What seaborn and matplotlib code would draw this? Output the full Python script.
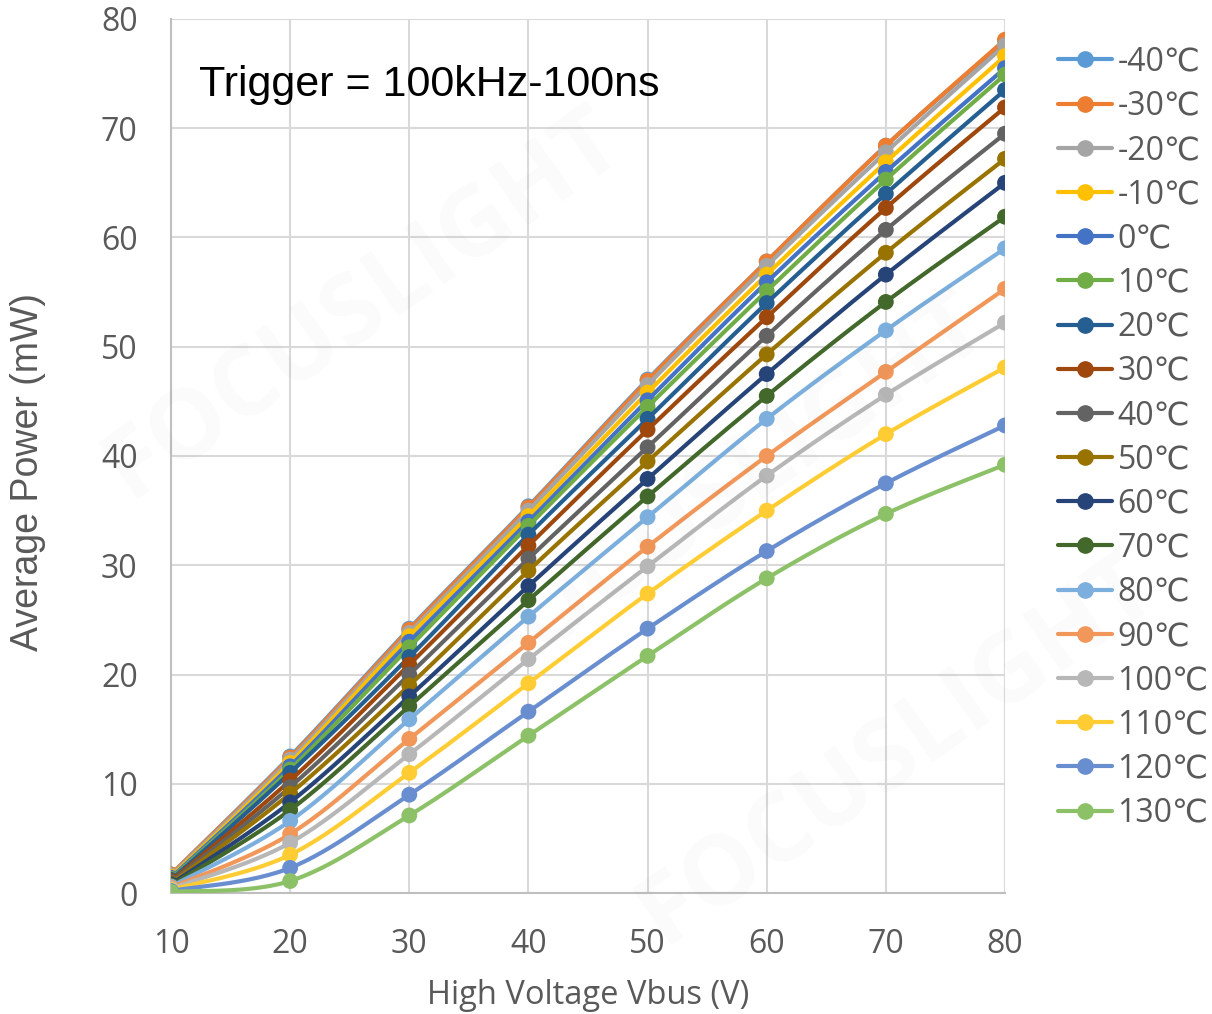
import numpy as np
import pandas as pd
import matplotlib
matplotlib.use('Agg')
import matplotlib.pyplot as plt
from matplotlib.lines import Line2D
import seaborn as sns

# ── Data ───────────────────────────────────────────────────────────────────
vbus = [10, 20, 30, 40, 50, 60, 70, 80]
temps = ['-40℃', '-30℃', '-20℃', '-10℃', '0℃', '10℃', '20℃', '30℃', '40℃',
         '50℃', '60℃', '70℃', '80℃', '90℃', '100℃', '110℃', '120℃', '130℃']

p_m40 = [1.7, 12.5, 24.2, 35.4, 47.0, 57.8, 68.4, 78.0]
p_m30 = [1.7, 12.4, 24.1, 35.3, 46.9, 57.8, 68.4, 78.1]
p_m20 = [1.6, 12.2, 23.8, 35.0, 46.5, 57.4, 67.8, 77.6]
p_m10 = [1.5, 11.9, 23.5, 34.5, 45.8, 56.6, 66.9, 76.6]
p_0 = [1.4, 11.6, 23.0, 34.0, 45.1, 55.9, 66.0, 75.5]
p_10 = [1.3, 11.3, 22.5, 33.6, 44.5, 55.1, 65.3, 74.9]
p_20 = [1.2, 11.0, 21.6, 32.8, 43.4, 54.0, 64.0, 73.5]
p_30 = [1.1, 10.3, 20.9, 31.8, 42.4, 52.7, 62.7, 71.9]
p_40 = [1.0, 9.7, 20.0, 30.6, 40.8, 51.0, 60.7, 69.5]
p_50 = [0.9, 9.1, 19.0, 29.5, 39.5, 49.3, 58.6, 67.2]
p_60 = [0.8, 8.3, 18.0, 28.1, 37.9, 47.5, 56.6, 65.0]
p_70 = [0.7, 7.6, 17.1, 26.8, 36.3, 45.5, 54.1, 61.9]
p_80 = [0.6, 6.6, 15.9, 25.3, 34.4, 43.4, 51.5, 59.0]
p_90 = [0.5, 5.4, 14.1, 22.9, 31.7, 40.0, 47.7, 55.3]
p_100 = [0.4, 4.6, 12.7, 21.4, 29.9, 38.2, 45.6, 52.2]
p_110 = [0.3, 3.5, 11.0, 19.2, 27.4, 35.0, 42.0, 48.1]
p_120 = [0.2, 2.3, 9.0, 16.6, 24.2, 31.3, 37.5, 42.8]
p_130 = [0.1, 1.1, 7.1, 14.4, 21.7, 28.8, 34.7, 39.2]

power = [p_m40, p_m30, p_m20, p_m10, p_0, p_10, p_20, p_30, p_40,
         p_50, p_60, p_70, p_80, p_90, p_100, p_110, p_120, p_130]

colors = ['#5B9BD5', '#ED7D31', '#A5A5A5', '#FFC000', '#4472C4', '#70AD47',
          '#255E91', '#9E480E', '#636363', '#997300', '#264478', '#43682B',
          '#7CAFDD', '#F1975A', '#B7B7B7', '#FFCD33', '#698ED0', '#8CC168']

GRID = '#D9D9D9'
TEXT = '#595959'

sns.set_theme(style='white')
plt.rcParams['font.family'] = ['Open Sans', 'DejaVu Sans']


def smooth(x, y, n=30):
    """Excel-style smoothed line (Catmull-Rom bezier through the points)."""
    x = np.asarray(x, float)
    y = np.asarray(y, float)
    px = np.r_[x[0], x, x[-1]]
    py = np.r_[y[0], y, y[-1]]
    xs, ys = [], []
    t = np.linspace(0, 1, n)
    for i in range(1, len(px) - 2):
        p0 = np.array([px[i], py[i]])
        p3 = np.array([px[i + 1], py[i + 1]])
        c1 = p0 + (np.array([px[i + 1], py[i + 1]]) - np.array([px[i - 1], py[i - 1]])) / 6
        c2 = p3 - (np.array([px[i + 2], py[i + 2]]) - np.array([px[i], py[i]])) / 6
        b = ((1 - t) ** 3)[:, None] * p0 + (3 * (1 - t) ** 2 * t)[:, None] * c1 \
            + (3 * (1 - t) * t ** 2)[:, None] * c2 + (t ** 3)[:, None] * p3
        xs.append(b[:, 0])
        ys.append(b[:, 1])
    return np.concatenate(xs), np.concatenate(ys)


rows = []
pts = []
for name, vals in zip(temps, power):
    sx, sy = smooth(vbus, vals)
    rows.append(pd.DataFrame({'Vbus': sx, 'Power': sy, 'Temp': name}))
    pts.append(pd.DataFrame({'Vbus': vbus, 'Power': vals, 'Temp': name}))
curves = pd.concat(rows, ignore_index=True)
points = pd.concat(pts, ignore_index=True)

fig = plt.figure(figsize=(12.12, 10.14), dpi=100)
ax = fig.add_axes([0.1411, 0.1193, 0.6881, 0.862])

# draw series in order so later ones sit on top (as in Excel)
for i, (name, col) in enumerate(zip(temps, colors)):
    sns.lineplot(data=curves[curves['Temp'] == name], x='Vbus', y='Power',
                 sort=False, color=col, lw=3.0, ax=ax, zorder=3 + i * 0.01,
                 legend=False)
    sns.scatterplot(data=points[points['Temp'] == name], x='Vbus', y='Power',
                    color=col, s=130, edgecolor='none', ax=ax,
                    zorder=3 + i * 0.01, legend=False)

ax.set_xlim(10, 80)
ax.set_ylim(0, 80)
ax.set_xticks(vbus)
ax.set_yticks(range(0, 81, 10))
ax.grid(True, color=GRID, lw=1.5)
ax.set_axisbelow(True)
for s in ['top', 'right']:
    ax.spines[s].set_visible(False)
for s in ['left', 'bottom']:
    ax.spines[s].set_color('#BFBFBF')
    ax.spines[s].set_linewidth(1.5)
ax.tick_params(axis='x', length=0, pad=25, labelsize=23, labelcolor=TEXT)
ax.tick_params(axis='y', length=0, pad=24, labelsize=23, labelcolor=TEXT)
ax.set_xlabel('High Voltage Vbus (V)', fontsize=23.5, color=TEXT)
ax.set_ylabel('Average Power (mW)', fontsize=27, color=TEXT,
              family='Liberation Sans')
ax.xaxis.set_label_coords(0.5, -0.1167)
ax.yaxis.set_label_coords(-0.171, 0.482)
ax.xaxis.label.set_va('center')
ax.yaxis.label.set_va('center')

ax.text(0.034, 0.925, 'Trigger = 100kHz-100ns', transform=ax.transAxes,
        fontsize=31, color='black', family='Liberation Sans', va='center')

# faint watermark
for (wx, wy, fs) in [(0.30, 0.70, 70), (0.60, 0.52, 70), (0.74, 0.26, 70)]:
    fig.text(wx, wy, 'FOCUSLIGHT', fontsize=fs, color='#000000', alpha=0.018,
             rotation=35, ha='center', va='center', fontweight='bold')

handles = [Line2D([], [], color=c, lw=3.0, marker='o', ms=11) for c in colors]
fig.legend(handles, temps, loc='upper left', bbox_to_anchor=(0.873, 0.955),
           frameon=False, fontsize=23, labelcolor=TEXT, handlelength=1.7,
           handletextpad=0.16, labelspacing=0.35, borderpad=0,
           borderaxespad=0)

fig.savefig('out.png', dpi=100)
